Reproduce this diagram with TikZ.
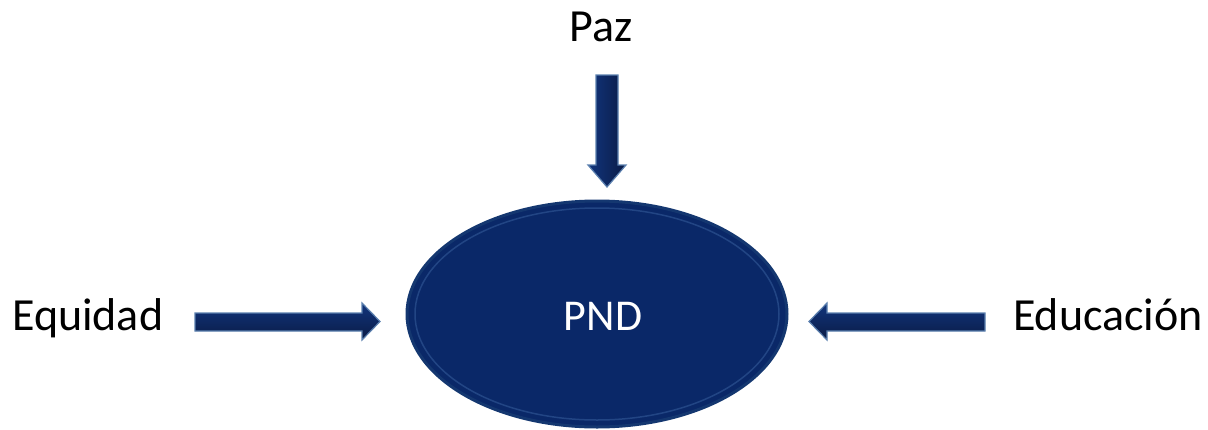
\documentclass[tikz,border=0pt]{standalone}
\usepackage{fontspec}
\setmainfont{Carlito}
\usetikzlibrary{shapes.geometric}
\definecolor{navy}{HTML}{0A2868}
\definecolor{navyrim}{HTML}{143770}
\definecolor{navyhi}{HTML}{3A62A0}
\definecolor{arrtop}{HTML}{12357D}
\definecolor{arrbot}{HTML}{0A1B45}
\definecolor{arredge}{HTML}{5A7FAE}
\begin{document}
\begin{tikzpicture}[x=1pt,y=-1pt,
  lbl/.style={font=\fontsize{46}{50}\selectfont, text=black, inner sep=0pt},
  blockarrow/.style={draw=arredge, line width=1.2pt, line join=miter},
  hshade/.style={top color=arrtop, bottom color=arrbot},
  vshade/.style={left color=arrtop, right color=arrbot},
]
\useasboundingbox (0,0) rectangle (1208,429);
% central ellipse
\node[ellipse, minimum width=380pt, minimum height=226pt, inner sep=0pt,
      fill=navy, draw=navyrim, line width=3pt] (pnd) at (597,314) {};
\draw[navyhi, opacity=0.5, line width=1.5pt] (597,314) ellipse [x radius=182, y radius=106];
\node[font=\fontsize{44}{48}\selectfont, text=white, inner sep=0pt, anchor=base]
  (pndtext) at (603,330) {PND};
% labels
\node[lbl, anchor=base] (paz) at (601,41) {Paz};
\node[lbl, anchor=base west] (equidad) at (12,330) {Equidad};
\node[lbl, anchor=base east] (educacion) at (1203,330) {Educación};
% down arrow (Paz -> PND)
\coordinate (pazT) at (607,187);
\path[blockarrow, vshade]
  (596,75) -- (618,75) -- (618,165) -- (626,165) -- (pazT) -- (588,165) -- (596,165) -- cycle;
% right arrow (Equidad -> PND)
\coordinate (eqT) at (380,321.5);
\path[blockarrow, hshade]
  (195,313) -- (362,313) -- (362,303) -- (eqT) -- (362,340) -- (362,331) -- (195,331) -- cycle;
% left arrow (Educacion -> PND)
\coordinate (edT) at (809,321.5);
\path[blockarrow, hshade]
  (985,313) -- (827,313) -- (827,303) -- (edT) -- (827,340) -- (827,331) -- (985,331) -- cycle;
\end{tikzpicture}
\end{document}
